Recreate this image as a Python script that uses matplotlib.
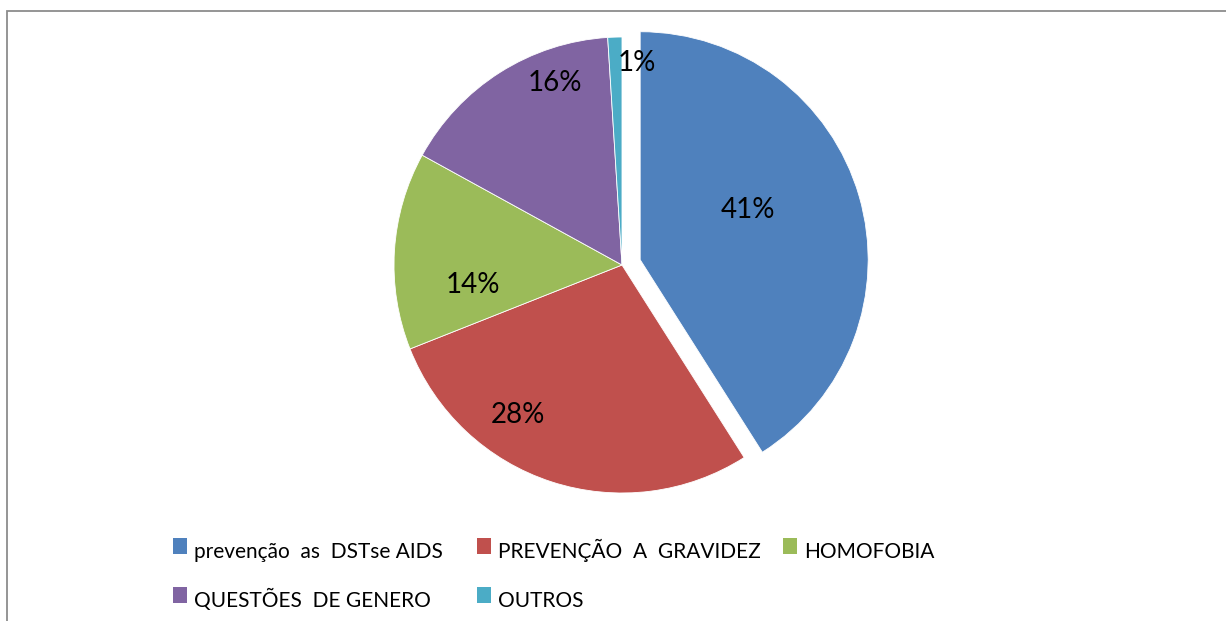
import numpy as np
import matplotlib
matplotlib.use("Agg")
import matplotlib.pyplot as plt
from matplotlib.patches import Rectangle

categories = ["prevenção  as  DSTse AIDS", "PREVENÇÃO  A  GRAVIDEZ", "HOMOFOBIA",
              "QUESTÕES  DE GENERO", "OUTROS"]
values = [41, 28, 14, 16, 1]
colors = ["#4F81BD", "#C0504D", "#9BBB59", "#8064A2", "#4BACC6"]
explode = [0.083, 0, 0, 0, 0]
# label placement (radial fraction, angle offset in degrees from wedge middle)
label_r = [0.52, 0.80, 0.66, 0.85, 0.89]
label_da = [8.6, -16.7, 11.2, -12.2, -6.0]

W, H = 1226, 621
plt.rcParams['font.family'] = ['Lato', 'DejaVu Sans']
fig = plt.figure(figsize=(W / 100, H / 100), dpi=100)

cx, cy, R = 622, 265, 228
lim = 1.1
size = 2 * lim * R
ax = fig.add_axes([(cx - size / 2) / W, (H - cy - size / 2) / H, size / W, size / H])

wedges, _ = ax.pie(values, colors=colors, explode=explode, startangle=90,
                   counterclock=False, radius=1,
                   wedgeprops=dict(edgecolor='white', linewidth=0.6))
ax.set_xlim(-lim, lim)
ax.set_ylim(-lim, lim)
ax.set_aspect('equal')
ax.axis('off')

total = sum(values)
for i, w in enumerate(wedges):
    mid = (w.theta1 + w.theta2) / 2 + label_da[i]
    cxw, cyw = w.center
    x = cxw + label_r[i] * np.cos(np.deg2rad(mid))
    y = cyw + label_r[i] * np.sin(np.deg2rad(mid))
    ax.text(x, y, f"{values[i] / total * 100:.0f}%", ha='center', va='center',
            fontsize=20, color='black')

# legend laid out in rows of three (pixel layout of the reference)
col_x = [173, 477, 783]
row_base = [558, 607]
sq_w, sq_h = 14, 16
for i, (lab, col) in enumerate(zip(categories, colors)):
    r, c = divmod(i, 3)
    x0 = col_x[c]
    base = row_base[r]
    fig.patches.append(Rectangle((x0 / W, 1 - (base - 4) / H), sq_w / W, sq_h / H,
                                 transform=fig.transFigure, facecolor=col,
                                 edgecolor='none'))
    fig.text((x0 + sq_w + 7) / W, 1 - base / H, lab, ha='left', va='baseline',
             fontsize=15, color='black')

fig.patches.append(Rectangle((6.5 / W, -0.05), 1.1, 1 - 10.5 / H + 0.05,
                             transform=fig.transFigure, fill=False,
                             edgecolor='#8c8c8c', linewidth=1.3))

fig.savefig("out.png", dpi=100)
